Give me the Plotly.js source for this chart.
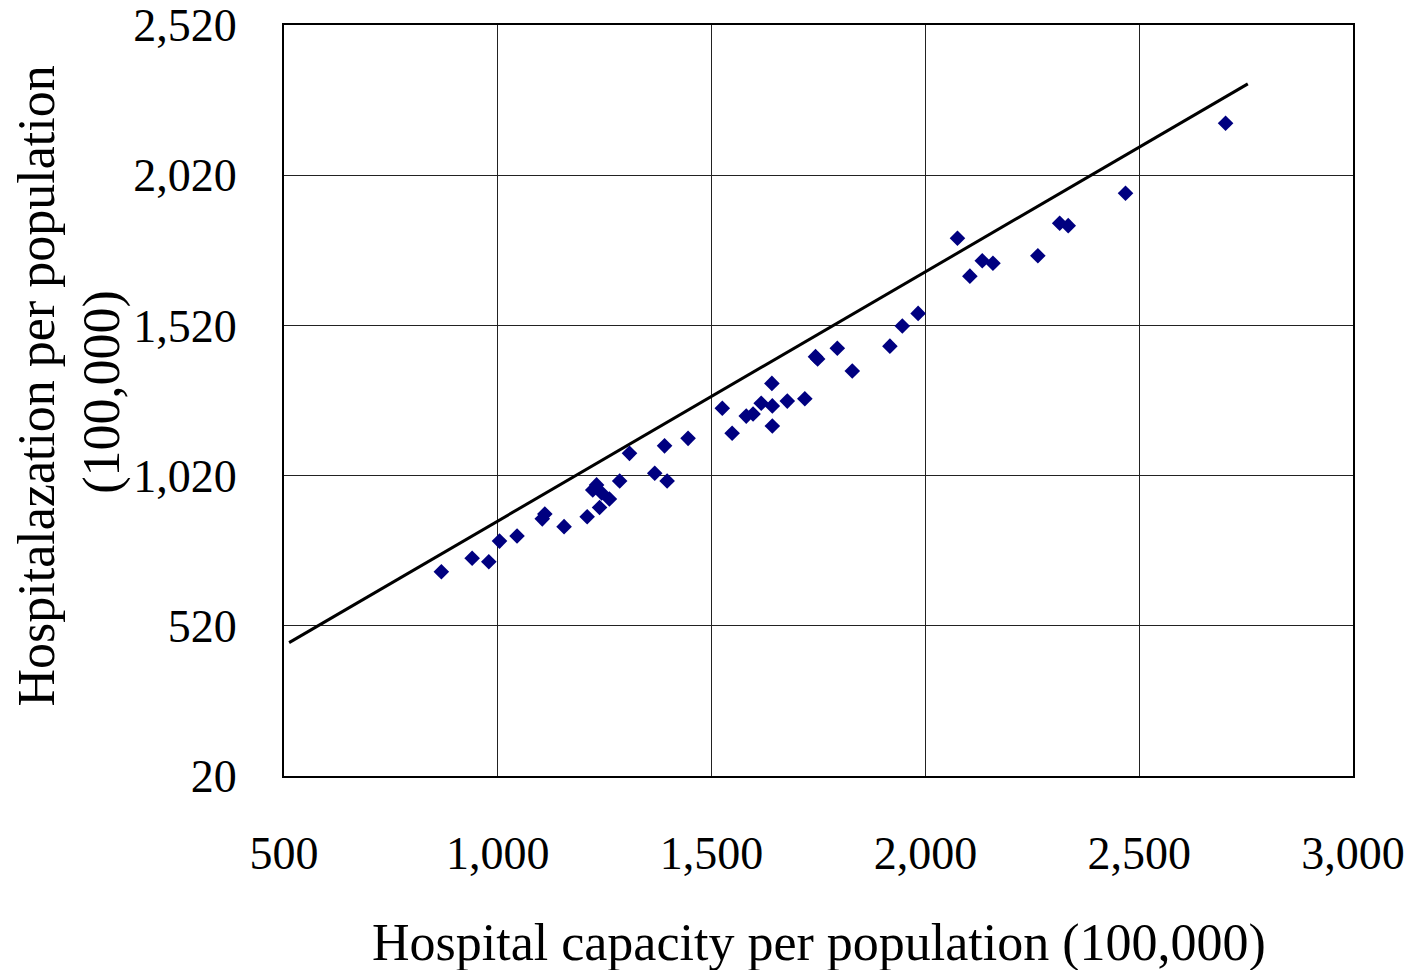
<!DOCTYPE html>
<html>
<head>
<meta charset="utf-8">
<script src="https://cdn.plot.ly/plotly-3.0.1.min.js"></script>
<style>
  html, body { margin: 0; padding: 0; background: #ffffff; }
  #chart { width: 1405px; height: 970px; }
</style>
</head>
<body>
<div id="chart"></div>
<script>
// Hospital capacity vs. hospitalization, per 100,000 population
const capacity = [868, 940, 979, 1004, 1045, 1104, 1110, 1155, 1209, 1222,
  1231, 1243, 1261, 1285, 1238, 1308, 1367, 1396, 1390, 1445,
  1525, 1548, 1581, 1597, 1616, 1641, 1642, 1642, 1677, 1718,
  1743, 1748, 1794, 1829, 1917, 1946, 1983, 2075, 2104, 2133,
  2158, 2263, 2314, 2334, 2468, 2702];
const hospitalization = [700, 745, 733, 802, 819, 876, 892, 850, 883, 972,
  989, 962, 942, 1002, 914, 1094, 1028, 1002, 1119, 1144,
  1244, 1161, 1218, 1225, 1261, 1327, 1252, 1185, 1268, 1276,
  1416, 1408, 1444, 1368, 1451, 1518, 1560, 1810, 1684, 1735,
  1727, 1752, 1860, 1852, 1960, 2193];

// Fitted line end points
const fitX = [512, 2754];
const fitY = [464, 2324];

const xTitle = 'Hospital capacity per population (100,000)';
const yTitleLines = ['Hospitalazation per population', '(100,000)'];

const serif = 'Liberation Serif, Times New Roman, serif';

const traces = [
  {
    x: fitX, y: fitY, type: 'scatter', mode: 'lines',
    line: { color: '#000000', width: 3 },
    hoverinfo: 'skip', showlegend: false
  },
  {
    x: capacity, y: hospitalization, type: 'scatter', mode: 'markers',
    marker: { symbol: 'diamond', size: 12, color: '#000080', line: { width: 0 } },
    showlegend: false
  }
];

const axisCommon = {
  showgrid: true, gridcolor: '#222222', gridwidth: 1,
  zeroline: false, showline: true, linecolor: '#000000', linewidth: 2,
  mirror: true, ticks: '', tickformat: ',d',
  tickfont: { family: serif, size: 46, color: '#000000' },
  automargin: false
};

const layout = {
  width: 1405, height: 970,
  margin: { l: 284, r: 52, t: 25, b: 194 },
  paper_bgcolor: '#ffffff', plot_bgcolor: '#ffffff',
  showlegend: false,
  xaxis: Object.assign({}, axisCommon, {
    range: [500, 3000], tick0: 500, dtick: 500, ticklabelstandoff: 36
  }),
  yaxis: Object.assign({}, axisCommon, {
    range: [20, 2520], tick0: 20, dtick: 500, ticklabelstandoff: 36
  }),
  annotations: [
    {
      text: xTitle, xref: 'paper', yref: 'paper', x: 0.5, y: -0.222,
      xanchor: 'center', yanchor: 'middle', showarrow: false,
      font: { family: serif, size: 52, color: '#000000' }
    },
    {
      text: yTitleLines[0], xref: 'paper', yref: 'paper', x: -0.232, y: 0.52,
      xanchor: 'center', yanchor: 'middle', textangle: -90, showarrow: false,
      font: { family: serif, size: 52, color: '#000000' }
    },
    {
      text: yTitleLines[1], xref: 'paper', yref: 'paper', x: -0.17, y: 0.512,
      xanchor: 'center', yanchor: 'middle', textangle: -90, showarrow: false,
      font: { family: serif, size: 52, color: '#000000' }
    }
  ]
};

Plotly.newPlot('chart', traces, layout, { staticPlot: true, displayModeBar: false });
</script>
</body>
</html>
